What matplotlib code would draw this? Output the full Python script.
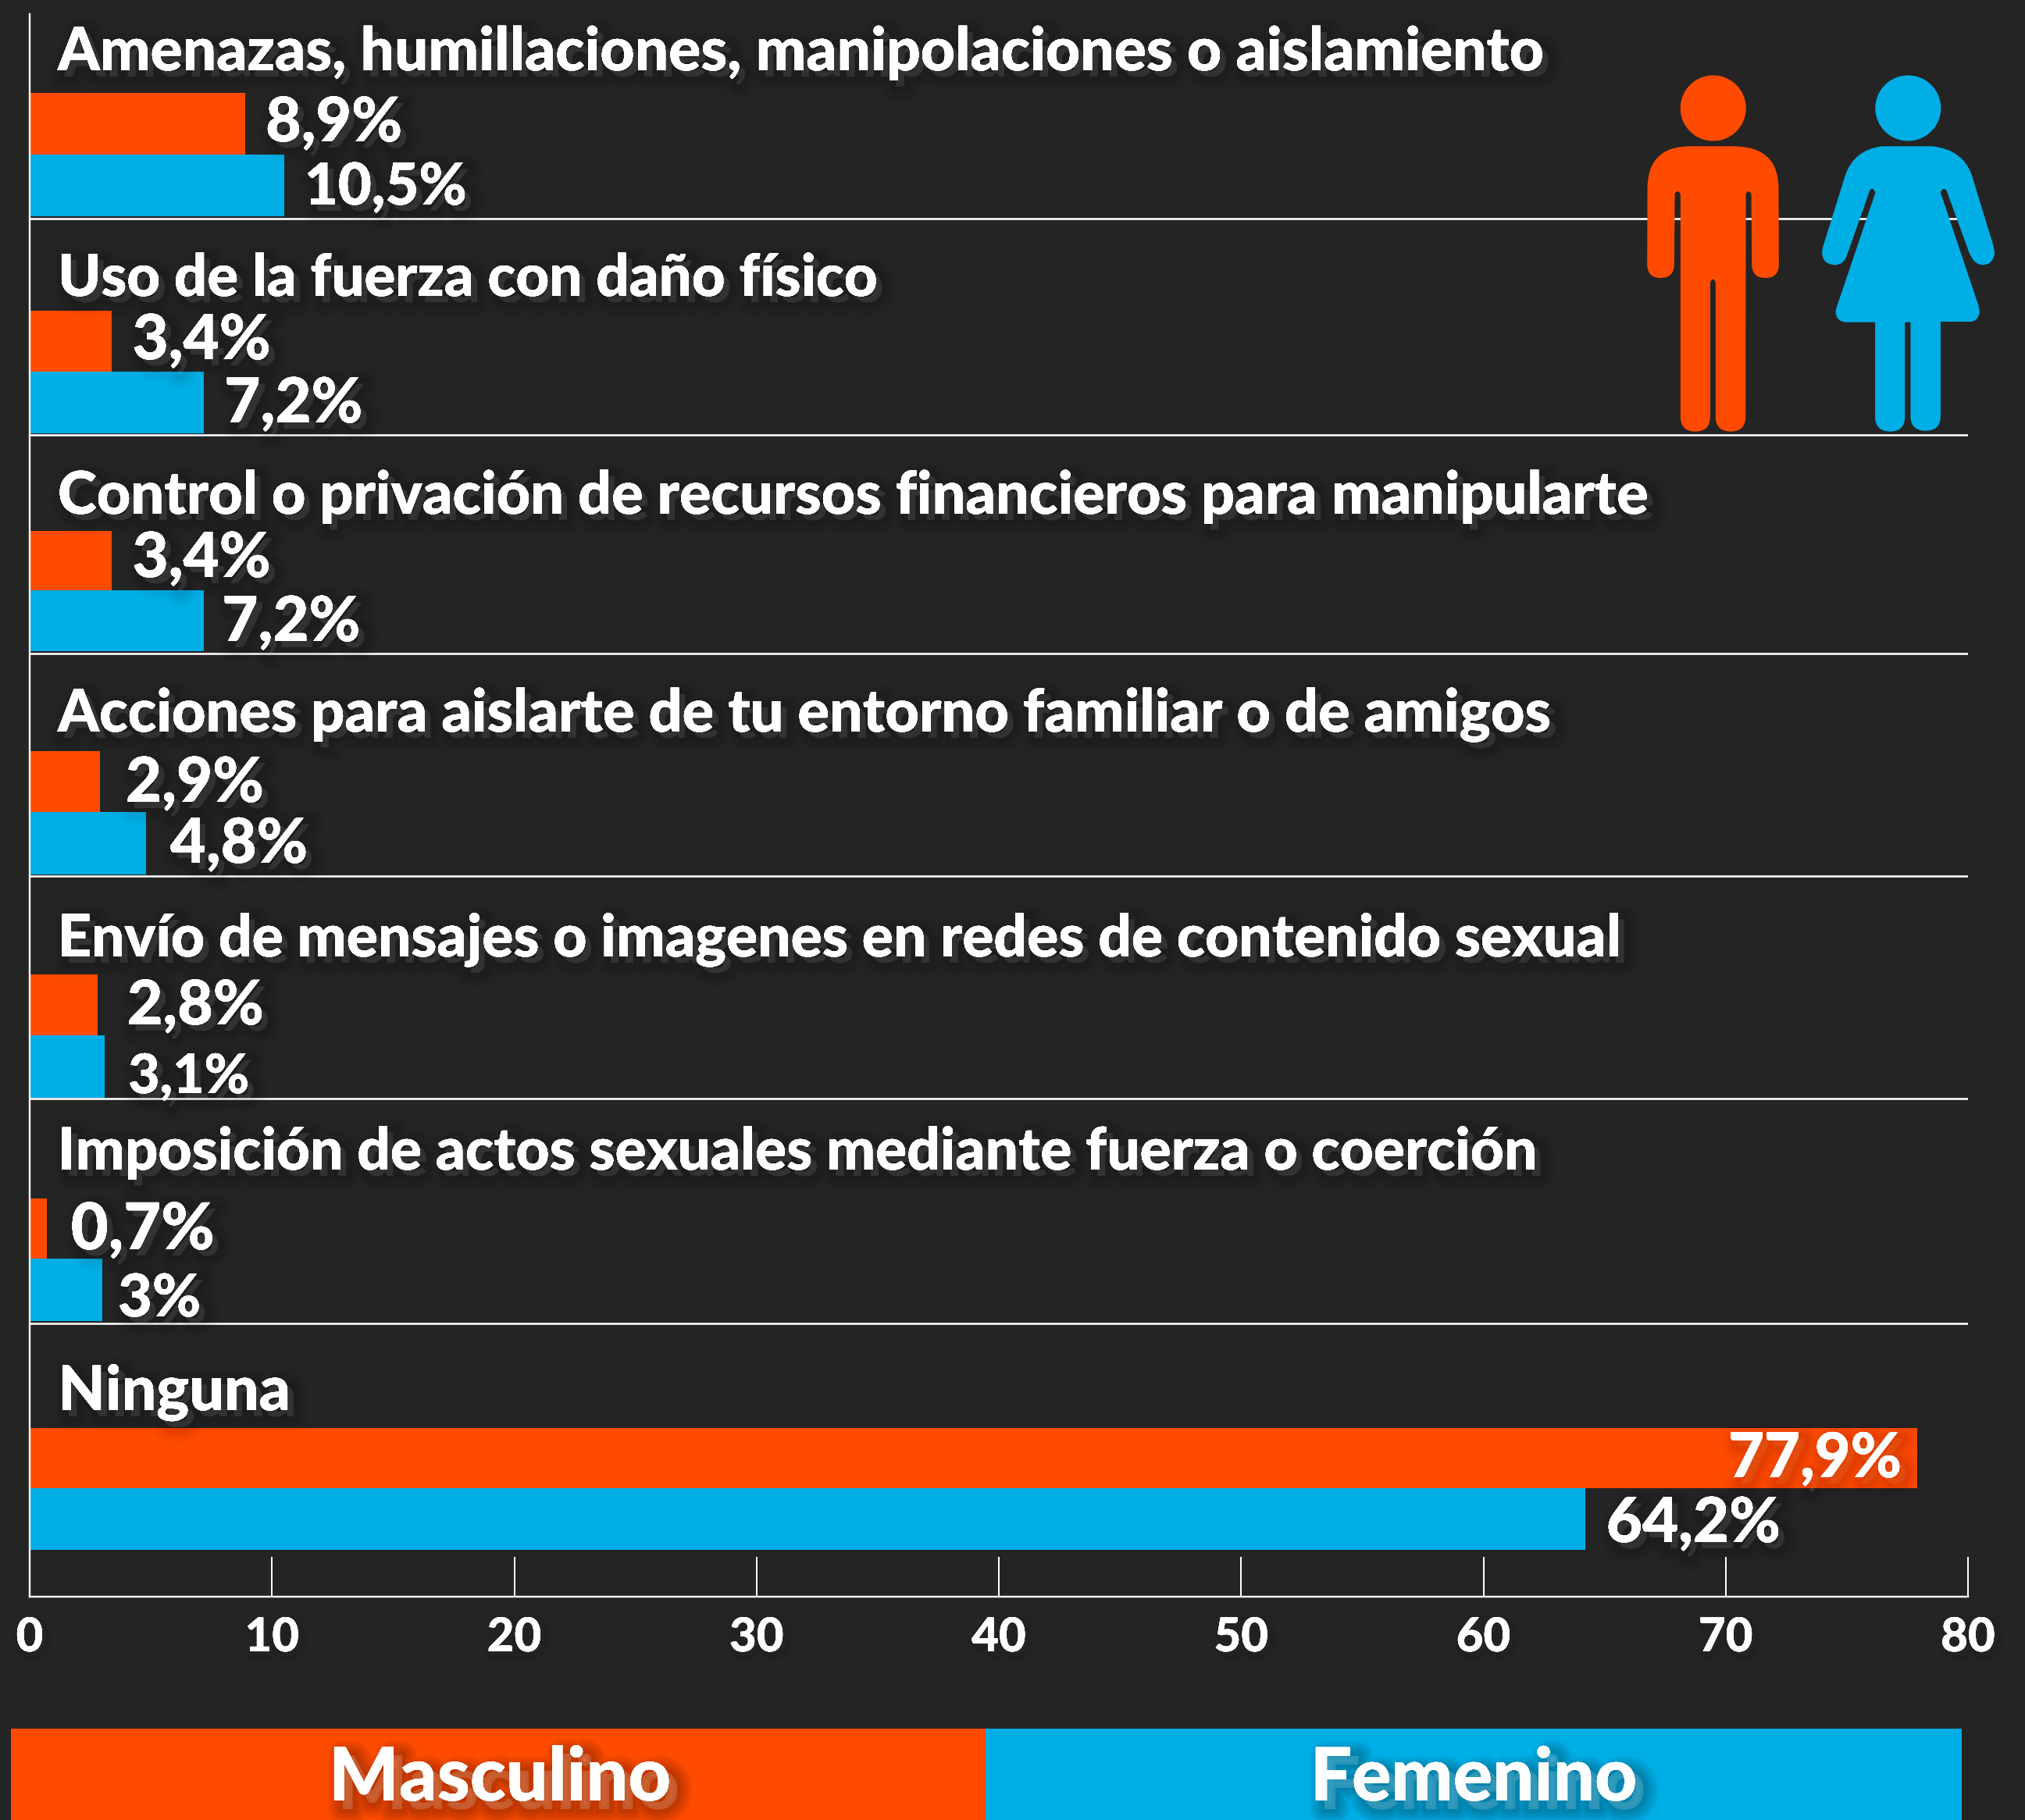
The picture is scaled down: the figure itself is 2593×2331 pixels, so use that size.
import matplotlib
matplotlib.use("Agg")
import matplotlib.pyplot as plt
import matplotlib.patheffects as pe
from matplotlib.path import Path
from matplotlib.patches import PathPatch, Circle, Rectangle

# ---- data ----
categories = [
    "Amenazas, humillaciones, manipolaciones o aislamiento",
    "Uso de la fuerza con daño físico",
    "Control o privación de recursos financieros para manipularte",
    "Acciones para aislarte de tu entorno familiar o de amigos",
    "Envío de mensajes o imagenes en redes de contenido sexual",
    "Imposición de actos sexuales mediante fuerza o coerción",
    "Ninguna",
]
masculino = [8.9, 3.4, 3.4, 2.9, 2.8, 0.7, 77.9]
femenino = [10.5, 7.2, 7.2, 4.8, 3.1, 3.0, 64.2]
masculino_labels = ["8,9%", "3,4%", "3,4%", "2,9%", "2,8%", "0,7%", "77,9%"]
femenino_labels = ["10,5%", "7,2%", "7,2%", "4,8%", "3,1%", "3%", "64,2%"]
x_ticks = [0, 10, 20, 30, 40, 50, 60, 70, 80]
legend_names = ["Masculino", "Femenino"]

# ---- layout (full-size pixels) ----
W, H = 2593, 2331
DPI = 100
PT = 72 / DPI
BG, ORANGE, BLUE = "#242424", "#FF4B00", "#00AEE6"
X0, X1, Y_TOP, Y_BOT = 38, 2520, 18, 2045
bar_tops = [119, 398, 680, 962, 1248, 1535, 1829]
bar_mids = [198, 476, 756, 1040, 1326, 1612, 1906]
bar_bots = [277, 555, 834, 1120, 1406, 1692, 1985]
separators = [280, 557, 837, 1122, 1407, 1695]
title_base = [90, 379, 658, 937, 1225, 1498, 1806]
title_w = [1903, 1050, 2037, 1912, 2001, 1895, 298]
m_base = [181, 460, 739, 1027, 1312, 1600, 1892]
f_base = [262, 541, 821, 1105, 1400, 1686, 1975]
m_off = [26, 26, 26, 33, 38, 31, -20]
f_off = [26, 26, 23, 31, 30, 20, 27]
m_w = [175, 177, 177, 177, 175, 184, 222]
f_w = [208, 177, 177, 176, 155, 106, 223]

FONT = dict(family="Lato", weight="black")


def shadow(dx=8, dy=-8, strength=0.016, widths=(40, 34, 28, 23, 18, 14, 10)):
    effects = []
    for lw in widths:
        effects.append(pe.withStroke(linewidth=lw * PT, foreground="black",
                                     alpha=strength, offset=(dx * PT, dy * PT)))
    effects.append(pe.Normal())
    return effects


fig = plt.figure(figsize=(W / DPI, H / DPI), dpi=DPI, facecolor=BG)
ax = fig.add_axes([X0 / W, 1 - Y_BOT / H, (X1 - X0) / W, (Y_BOT - Y_TOP) / H], facecolor=BG)
ax.set_xlim(0, 80)
ax.set_ylim(Y_BOT, Y_TOP)

for i in range(len(categories)):
    ax.barh((bar_tops[i] + bar_mids[i]) / 2, masculino[i], height=bar_mids[i] - bar_tops[i],
            color=ORANGE, linewidth=0, zorder=2)
    ax.barh((bar_mids[i] + bar_bots[i]) / 2, femenino[i], height=bar_bots[i] - bar_mids[i],
            color=BLUE, linewidth=0, zorder=2)
for y in separators:
    ax.axhline(y, color="white", lw=2.6 * PT, zorder=1)

for s in ("top", "right"):
    ax.spines[s].set_visible(False)
for s in ("left", "bottom"):
    ax.spines[s].set_color("white")
    ax.spines[s].set_linewidth(2.4 * PT)
ax.set_yticks([])
ax.set_xticks(x_ticks)
ax.tick_params(axis="x", direction="in", length=51 * PT, width=2 * PT, color="white",
               pad=24 * PT, labelsize=60 * PT, labelcolor="white")
for t in ax.get_xticklabels():
    t.set(**FONT)
    t.set_path_effects(shadow(4, -4, 0.008, (20, 14, 9)))
ax.get_xticklabels()[-1].set_clip_on(False)

fig.canvas.draw()
renderer = fig.canvas.get_renderer()


def px_text(x_data, px_off, y, s, width_px, ha="left"):
    t = ax.annotate(s, xy=(x_data, y), xycoords="data", xytext=(px_off * PT, 0),
                    textcoords="offset points", ha=ha, va="baseline", color="white",
                    fontsize=70 * PT, path_effects=shadow(), zorder=5,
                    annotation_clip=False, **FONT)
    w = t.get_window_extent(renderer).width
    t.set_fontsize(t.get_fontsize() * width_px / w)
    return t


for i, cat in enumerate(categories):
    px_text(0, 36, title_base[i], cat, title_w[i])
    px_text(masculino[i], m_off[i], m_base[i], masculino_labels[i], m_w[i],
            ha="right" if m_off[i] < 0 else "left")
    px_text(femenino[i], f_off[i], f_base[i], femenino_labels[i], f_w[i])

# overlay in pixel coordinates: legend strip and pictograms
ov = fig.add_axes([0, 0, 1, 1], facecolor="none", zorder=10)
ov.set_xlim(0, W)
ov.set_ylim(H, 0)
ov.axis("off")

ov.add_patch(Rectangle((14, 2214), 1248, H - 2214, color=ORANGE, lw=0))
ov.add_patch(Rectangle((1262, 2214), 1250, H - 2214, color=BLUE, lw=0))
for name, cx, size in zip(legend_names, (640, 1887), (95, 94)):
    ov.text(cx, 2306, name, ha="center", va="baseline", color="white", fontsize=size * PT,
            path_effects=shadow(11, -11, 0.045, (38, 32, 26, 20, 14, 9)), **FONT)


def icon(segments, color):
    verts, codes = [], []
    for seg in segments:
        if len(seg) == 1:
            codes.append(Path.LINETO if verts else Path.MOVETO)
            verts.append(seg[0])
        else:
            codes += [Path.CURVE3, Path.CURVE3]
            verts += [seg[0], seg[1]]
    verts.append(verts[0])
    codes.append(Path.CLOSEPOLY)
    verts = [(2050 + x / 2.888, 60 + y / 3.0) for x, y in verts]
    ov.add_patch(PathPatch(Path(verts, codes), facecolor=color, lw=0))


man = [
    [(330, 382)], [(490, 382)], [(657, 382), (657, 545)], [(658, 835)],
    [(658, 888), (608, 888)], [(558, 888), (558, 835)], [(556, 565)],
    [(546, 545), (536, 565)], [(535, 1420)], [(535, 1478), (480, 1478)],
    [(424, 1478), (424, 1420)], [(424, 905)], [(414, 880), (404, 905)], [(404, 1420)],
    [(404, 1478), (349, 1478)], [(294, 1478), (294, 1420)], [(294, 565)],
    [(283, 545), (273, 565)], [(271, 835)], [(271, 888), (221, 888)],
    [(171, 888), (171, 835)], [(172, 545)], [(172, 382), (330, 382)],
]
woman = [
    [(1040, 382)], [(1225, 382)], [(1340, 395), (1372, 495)], [(1450, 760)],
    [(1456, 785), (1456, 795)], [(1448, 838), (1410, 838)], [(1375, 835), (1358, 780)],
    [(1278, 552)], [(1265, 535), (1256, 560)], [(1395, 990)], [(1400, 1010), (1400, 1020)],
    [(1395, 1056), (1365, 1056)], [(1256, 1056)], [(1256, 1420)],
    [(1256, 1475), (1200, 1475)], [(1145, 1475), (1145, 1420)], [(1145, 1058)],
    [(1124, 1058)], [(1124, 1420)], [(1124, 1478), (1070, 1478)],
    [(1014, 1478), (1014, 1420)], [(1014, 1058)], [(905, 1058)], [(870, 1055), (868, 1020)],
    [(868, 1010), (875, 990)], [(1015, 560)], [(1005, 535), (994, 552)], [(910, 800)],
    [(898, 838), (865, 838)], [(818, 835), (818, 790)], [(818, 780), (822, 765)],
    [(903, 495)], [(935, 395), (1040, 382)],
]
icon(man, ORANGE)
icon(woman, BLUE)
ov.add_patch(Circle((2193.7, 138.5), 42, color=ORANGE, lw=0))
ov.add_patch(Circle((2443.3, 138.5), 42, color=BLUE, lw=0))

fig.savefig("out.png", dpi=DPI, facecolor=BG)
